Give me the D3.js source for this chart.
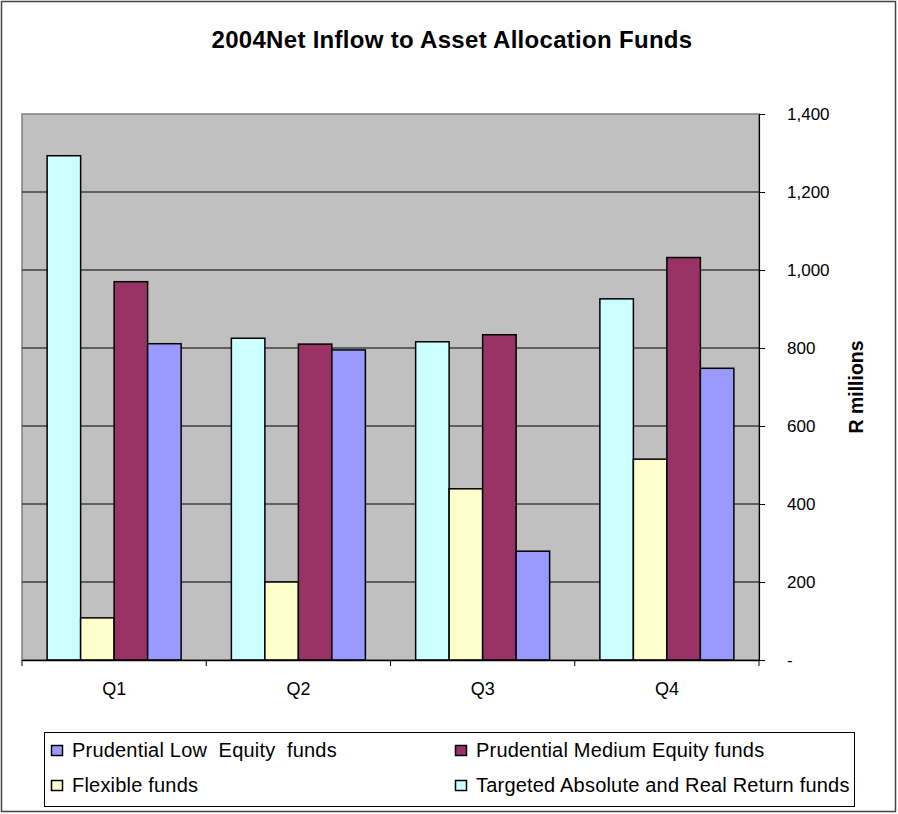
<!DOCTYPE html>
<html>
<head>
<meta charset="utf-8">
<script src="https://cdn.jsdelivr.net/npm/d3@7"></script>
<style>
  body { margin: 0; background: #fff; }
  svg { display: block; font-family: "Liberation Sans", Arial, sans-serif; }
</style>
</head>
<body>
<div id="chart"></div>
<script>
// data (R millions)
const quarters = ["Q1", "Q2", "Q3", "Q4"];
const seriesNames = ["Targeted Absolute and Real Return funds", "Flexible funds", "Prudential Medium Equity funds", "Prudential Low  Equity  funds"];
const targeted = [1293, 825, 816, 926];
const flexible = [108, 200, 439, 515];
const mediumEq = [970, 810, 834, 1032];
const lowEq = [811, 795, 279, 748];
const yTicks = [0, 200, 400, 600, 800, 1000, 1200, 1400];
const colors = ["#ccffff", "#ffffcc", "#993366", "#9999ff"];

const values = [targeted, flexible, mediumEq, lowEq];
const width = 898, height = 814;
const plot = { left: 22, right: 759, top: 114, bottom: 660 };

const svg = d3.select("#chart").append("svg")
    .attr("width", width)
    .attr("height", height);

// outer frame
svg.append("rect")
    .attr("x", 1.5).attr("y", 1.5)
    .attr("width", 894).attr("height", 810)
    .attr("fill", "#fff").attr("stroke", "#444").attr("stroke-width", 1.5);

svg.append("text")
    .attr("x", 452).attr("y", 48)
    .attr("text-anchor", "middle")
    .attr("font-size", 24).attr("font-weight", "bold")
    .attr("letter-spacing", 0.3)
    .text("2004Net Inflow to Asset Allocation Funds");

const x0 = d3.scaleBand().domain(quarters).range([plot.left, plot.right]);
const x1 = d3.scaleBand().domain(d3.range(4)).range([0, x0.bandwidth()]).paddingOuter(0.75);
const y = d3.scaleLinear().domain([0, 1400]).range([plot.bottom, plot.top]);

// plot background
svg.append("rect")
    .attr("x", plot.left).attr("y", plot.top)
    .attr("width", plot.right - plot.left).attr("height", plot.bottom - plot.top)
    .attr("fill", "#c0c0c0").attr("stroke", "#808080").attr("stroke-width", 1.5);

// gridlines
svg.append("g")
    .selectAll("line")
    .data(yTicks.filter(d => d > 0 && d < 1400))
    .join("line")
    .attr("x1", plot.left).attr("x2", plot.right)
    .attr("y1", d => y(d)).attr("y2", d => y(d))
    .attr("stroke", "#000").attr("stroke-width", 1);

// bars
svg.append("g")
    .selectAll("g")
    .data(quarters)
    .join("g")
    .attr("transform", d => `translate(${x0(d)},0)`)
    .selectAll("rect")
    .data((q, qi) => values.map((s, si) => ({ si, v: s[qi] })))
    .join("rect")
    .attr("x", d => x1(d.si))
    .attr("width", x1.bandwidth())
    .attr("y", d => y(d.v))
    .attr("height", d => y(0) - y(d.v))
    .attr("fill", d => colors[d.si])
    .attr("stroke", "#000").attr("stroke-width", 1.5);

// right value axis
const yAxis = d3.axisRight(y)
    .tickValues(yTicks)
    .tickSize(6)
    .tickPadding(22)
    .tickFormat(d => d === 0 ? "-" : d3.format(",")(d));
svg.append("g")
    .attr("transform", `translate(${plot.right},0)`)
    .call(yAxis)
    .call(g => g.select(".domain").attr("stroke", "#000").attr("stroke-width", 1.2))
    .call(g => g.selectAll(".tick line").attr("stroke", "#000"))
    .call(g => g.selectAll("text").attr("font-size", 17).attr("font-family", "Liberation Sans, Arial, sans-serif").attr("fill", "#000"));

// category axis
const xAxis = d3.axisBottom(x0).tickSize(0).tickPadding(22);
const xg = svg.append("g")
    .attr("transform", `translate(0,${plot.bottom})`)
    .call(xAxis);
xg.select(".domain").attr("stroke", "#000").attr("stroke-width", 1.5);
xg.selectAll("text").attr("font-size", 18).attr("font-family", "Liberation Sans, Arial, sans-serif").attr("fill", "#000");
xg.selectAll(".sep")
    .data(quarters.map(q => x0(q)).concat([plot.right]))
    .join("line")
    .attr("x1", d => d).attr("x2", d => d)
    .attr("y1", 0).attr("y2", 6)
    .attr("stroke", "#000");

svg.append("text")
    .attr("transform", `translate(863,387) rotate(-90)`)
    .attr("text-anchor", "middle")
    .attr("font-size", 19.5).attr("font-weight", "bold")
    .text("R millions");

// legend
const legendItems = [
  { name: seriesNames[3], color: colors[3], x: 51, y: 750 },
  { name: seriesNames[2], color: colors[2], x: 455, y: 750 },
  { name: seriesNames[1], color: colors[1], x: 51, y: 785 },
  { name: seriesNames[0], color: colors[0], x: 455, y: 785 }
];
svg.append("rect")
    .attr("x", 44.5).attr("y", 732.5)
    .attr("width", 810).attr("height", 74)
    .attr("fill", "#fff").attr("stroke", "#000").attr("stroke-width", 1);
const lg = svg.append("g").selectAll("g").data(legendItems).join("g")
    .attr("transform", d => `translate(${d.x},${d.y})`);
lg.append("rect")
    .attr("x", 0.5).attr("y", -4.5).attr("width", 11).attr("height", 10)
    .attr("fill", d => d.color).attr("stroke", "#000").attr("stroke-width", 1.5);
lg.append("text")
    .attr("x", 21).attr("y", 7)
    .attr("font-size", 20)
    .attr("letter-spacing", 0.2)
    .style("white-space", "pre")
    .attr("xml:space", "preserve")
    .text(d => d.name);
</script>
</body>
</html>
